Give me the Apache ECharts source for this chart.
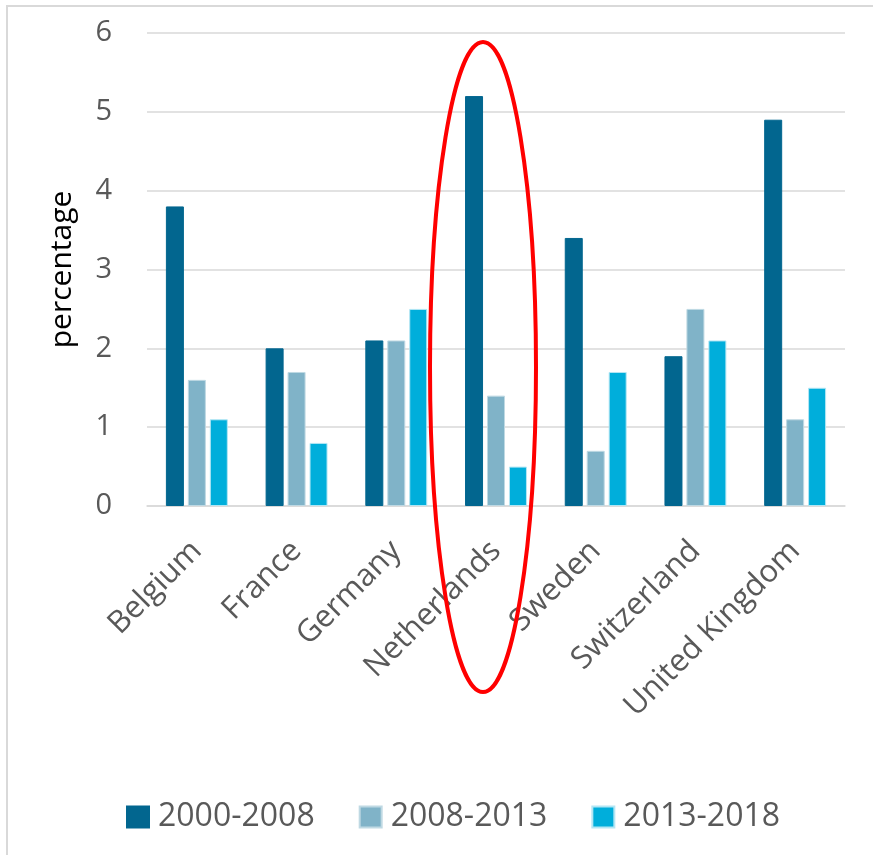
<!DOCTYPE html>
<html>
<head>
<meta charset="utf-8">
<script src="https://cdn.jsdelivr.net/npm/echarts@6/dist/echarts.min.js"></script>
<style>
  html, body { margin: 0; padding: 0; background: #fff; }
  #chart { width: 873px; height: 855px; }
</style>
</head>
<body>
<div id="chart"></div>
<script>
// Data
const countries = ["Belgium", "France", "Germany", "Netherlands", "Sweden", "Switzerland", "United Kingdom"];
const periods = ["2000-2008", "2008-2013", "2013-2018"];
const growth0008 = [3.8, 2.0, 2.1, 5.2, 3.4, 1.9, 4.9];
const growth0813 = [1.6, 1.7, 2.1, 1.4, 0.7, 2.5, 1.1];
const growth1318 = [1.1, 0.8, 2.5, 0.5, 1.7, 2.1, 1.5];
const yTicks = [0, 1, 2, 3, 4, 5, 6];
const highlighted = "Netherlands";

const colors = ["#02668F", "#80B3C8", "#00AEDB"];
const borders = ["#02668F", "#BFD9E3", "#B3E6F4"];
const values = [growth0008, growth0813, growth1318];

const chart = echarts.init(document.getElementById("chart"));

const option = {
  backgroundColor: "#fff",
  animation: false,
  grid: { left: 147, right: 28, top: 33, bottom: 349 },
  legend: {
    top: 796,
    left: 121,
    itemWidth: 22,
    itemHeight: 21,
    itemGap: 44,
    icon: "rect",
    textStyle: {
      fontFamily: "Open Sans, sans-serif",
      fontSize: 32,
      color: "#595959",
      padding: [0, 0, 0, 4],
    },
    data: periods,
  },
  xAxis: {
    type: "category",
    data: countries,
    axisLine: { lineStyle: { color: "#D9D9D9", width: 1.5 } },
    axisTick: { show: false },
    axisLabel: {
      rotate: 45,
      margin: 40,
      fontFamily: "Open Sans, sans-serif",
      fontSize: 31,
      color: "#595959",
      interval: 0,
    },
  },
  yAxis: {
    type: "value",
    min: yTicks[0],
    max: yTicks[yTicks.length - 1],
    interval: 1,
    name: "percentage",
    nameLocation: "middle",
    nameGap: 70,
    nameTextStyle: {
      fontFamily: "Open Sans, sans-serif",
      fontSize: 30,
      color: "#000",
    },
    axisLine: { show: false },
    axisTick: { show: false },
    axisLabel: {
      margin: 35,
      fontFamily: "Open Sans, sans-serif",
      fontSize: 29,
      color: "#595959",
    },
    splitLine: { lineStyle: { color: "#D9D9D9", width: 1.5 } },
  },
  series: periods.map((name, i) => ({
    name: name,
    type: "bar",
    data: values[i],
    barWidth: 18,
    barGap: "22%",
    barCategoryGap: "39%",
    itemStyle: { color: colors[i], borderColor: borders[i], borderWidth: 1 },
  })),
};

chart.setOption(option);

// Red ellipse highlighting one country, plus the light frame
const center = chart.convertToPixel({ xAxisIndex: 0, yAxisIndex: 0 }, [highlighted, 3]);
chart.setOption({
  graphic: [
    {
      type: "rect",
      shape: { x: 7, y: 6, width: 900, height: 900 },
      style: { fill: "none", stroke: "#D9D9D9", lineWidth: 2 },
      silent: true,
      z: 0,
    },
    {
      type: "ellipse",
      shape: { cx: center[0] - 13, cy: 367, rx: 53, ry: 325 },
      style: { fill: "none", stroke: "#FF0000", lineWidth: 4 },
      silent: true,
      z: 100,
    },
  ],
});
</script>
</body>
</html>
